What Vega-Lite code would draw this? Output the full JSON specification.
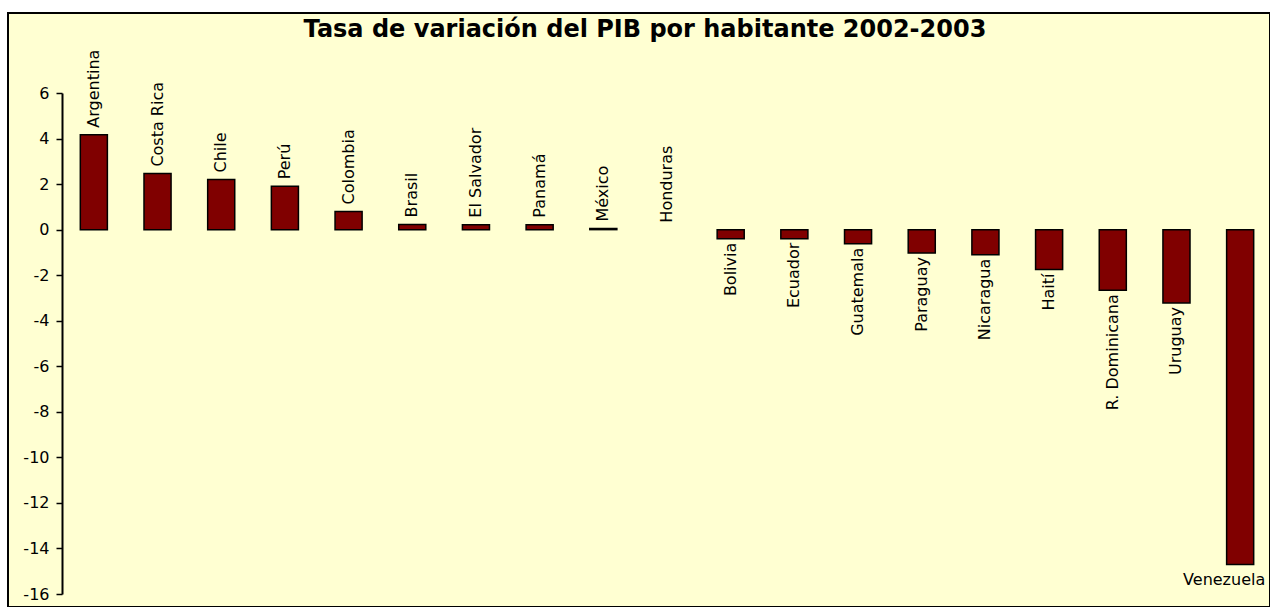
{
  "$schema": "https://vega.github.io/schema/vega-lite/v6.json",
  "autosize": {"type": "none"},
  "padding": {"left": 8, "top": 13, "right": 0, "bottom": 0},
  "width": 1262,
  "height": 594,
  "background": "white",
  "config": {
    "view": {"fill": "#FFFFD2", "stroke": "black", "strokeWidth": 2},
    "font": "DejaVu Sans"
  },
  "title": {
    "text": "Tasa de variación del PIB por habitante 2002-2003",
    "frame": "group",
    "anchor": "middle",
    "orient": "top",
    "offset": -27,
    "baseline": "alphabetic",
    "dx": 6,
    "dy": 21,
    "font": "DejaVu Sans",
    "fontSize": 24,
    "fontWeight": "bold",
    "color": "black"
  },
  "data": {
    "values": [
      {"pais": "Argentina", "valor": 4.17},
      {"pais": "Costa Rica", "valor": 2.46},
      {"pais": "Chile", "valor": 2.2},
      {"pais": "Perú", "valor": 1.9},
      {"pais": "Colombia", "valor": 0.8},
      {"pais": "Brasil", "valor": 0.23},
      {"pais": "El Salvador", "valor": 0.22},
      {"pais": "Panamá", "valor": 0.22},
      {"pais": "México", "valor": 0.05},
      {"pais": "Honduras", "valor": 0.0},
      {"pais": "Bolivia", "valor": -0.4},
      {"pais": "Ecuador", "valor": -0.4},
      {"pais": "Guatemala", "valor": -0.62},
      {"pais": "Paraguay", "valor": -1.03},
      {"pais": "Nicaragua", "valor": -1.1},
      {"pais": "Haití", "valor": -1.75},
      {"pais": "R. Dominicana", "valor": -2.66},
      {"pais": "Uruguay", "valor": -3.22},
      {"pais": "Venezuela", "valor": -14.7}
    ]
  },
  "encoding": {
    "x": {
      "field": "pais",
      "type": "nominal",
      "sort": null,
      "scale": {
        "domain": ["Argentina", "Costa Rica", "Chile", "Perú", "Colombia", "Brasil", "El Salvador", "Panamá", "México", "Honduras", "Bolivia", "Ecuador", "Guatemala", "Paraguay", "Nicaragua", "Haití", "R. Dominicana", "Uruguay", "Venezuela"],
        "range": [54, 1264],
        "paddingInner": 0.575,
        "paddingOuter": 0.2875
      },
      "axis": null
    },
    "y": {
      "field": "valor",
      "type": "quantitative",
      "scale": {"domain": [-16, 6], "range": [581, 80], "nice": false},
      "axis": {
        "title": null,
        "offset": -54,
        "values": [-16, -14, -12, -10, -8, -6, -4, -2, 0, 2, 4, 6],
        "labelExpr": "replace(datum.label, '−', '-')",
        "grid": false,
        "domainColor": "black",
        "domainWidth": 2,
        "tickColor": "black",
        "tickWidth": 1.5,
        "tickSize": 6,
        "labelFont": "DejaVu Sans",
        "labelFontSize": 16,
        "labelColor": "black",
        "labelPadding": 7
      }
    }
  },
  "layer": [
    {
      "transform": [{"filter": "datum.valor != 0"}],
      "mark": {"type": "bar", "fill": "#800000", "stroke": "black", "strokeWidth": 1.5}
    },
    {
      "transform": [{"filter": "datum.valor >= 0"}],
      "mark": {"type": "text", "angle": 270, "align": "left", "baseline": "middle", "dx": 7, "fontSize": 16, "font": "DejaVu Sans", "color": "black"},
      "encoding": {"text": {"field": "pais"}}
    },
    {
      "transform": [{"filter": "datum.valor < 0 && datum.pais != 'Venezuela'"}],
      "mark": {"type": "text", "angle": 270, "align": "right", "baseline": "middle", "dx": -4, "fontSize": 16, "font": "DejaVu Sans", "color": "black"},
      "encoding": {"text": {"field": "pais"}}
    },
    {
      "transform": [{"filter": "datum.pais == 'Venezuela'"}],
      "mark": {"type": "text", "align": "center", "baseline": "top", "dy": 8, "dx": -16, "fontSize": 16, "font": "DejaVu Sans", "color": "black"},
      "encoding": {"text": {"field": "pais"}}
    }
  ]
}
